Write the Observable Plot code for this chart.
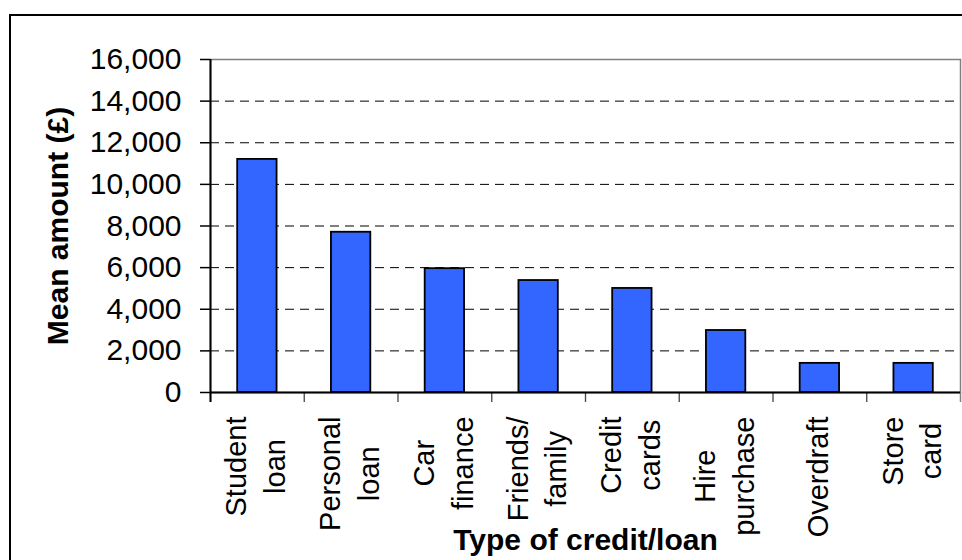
<!DOCTYPE html>
<html>
<head>
<meta charset="utf-8">
<script src="https://cdn.jsdelivr.net/npm/d3@7"></script>
<script src="https://cdn.jsdelivr.net/npm/@observablehq/plot@0.6"></script>
<style>
  body { margin: 0; background: #fff; }
  #wrap { position: relative; width: 962px; height: 560px; overflow: hidden; background: #fff; }
  #frame { position: absolute; left: 9px; top: 14px; width: 1200px; height: 1200px;
           border-left: 2px solid #000; border-top: 2px solid #000; pointer-events: none; }
</style>
</head>
<body>
<div id="wrap"><div id="frame"></div></div>
<script>
const categories = ["Student loan", "Personal loan", "Car finance", "Friends/family",
                    "Credit cards", "Hire purchase", "Overdraft", "Store card"];
const labelLines = [["Student", "loan"], ["Personal", "loan"], ["Car", "finance"], ["Friends/", "family"],
                    ["Credit", "cards"], ["Hire", "purchase"], ["Overdraft"], ["Store", "card"]];
const values = [11200, 7700, 5950, 5380, 5000, 2980, 1400, 1400];
const yTicks = [0, 2000, 4000, 6000, 8000, 10000, 12000, 14000, 16000];
const gridValues = [2000, 4000, 6000, 8000, 10000, 12000, 14000];
const xTitle = "Type of credit/loan";
const yTitle = "Mean amount (£)";

const W = 962, H = 560, mL = 210, mR = 2, mT = 59, mB = 168;
const step = (W - mL - mR) / categories.length;
const FONT = "'Liberation Sans', Arial, sans-serif";
const data = categories.map((c, i) => ({category: c, value: values[i]}));

const ctx = document.createElement("canvas").getContext("2d");
ctx.font = "29px 'Liberation Sans'";

const labelMarks = categories.map((c, i) => {
  const w = d3.max(labelLines[i], s => ctx.measureText(s).width);
  return Plot.text([c], {
    x: d => d, text: () => labelLines[i].join("\n"),
    frameAnchor: "bottom", rotate: -90, textAnchor: "middle", lineAnchor: "middle",
    lineHeight: 1.34, dx: -4, dy: 24 + w / 2, fontSize: 29, fontFamily: FONT, fill: "#000"
  });
});

const chart = Plot.plot({
  width: W, height: H,
  marginLeft: mL, marginRight: mR, marginTop: mT, marginBottom: mB,
  style: {fontFamily: FONT, background: "#fff", color: "#000"},
  x: {domain: categories, paddingInner: 0.58, paddingOuter: 0.29, round: false, axis: null},
  y: {domain: [0, 16000]},
  marks: [
    Plot.frame({stroke: "#808080", strokeWidth: 1.5}),
    Plot.ruleY(gridValues, {stroke: "#000", strokeWidth: 1, strokeDasharray: "9,6"}),
    Plot.barY(data, {x: "category", y: "value", fill: "#3366FF", stroke: "#000", strokeWidth: 1.8}),
    Plot.ruleX(categories, {x: d => d, dx: -step / 2, y1: 0, y2: 0, insetBottom: -10, stroke: "#444", strokeWidth: 1.3}),
    Plot.ruleX([categories[categories.length - 1]], {x: d => d, dx: step / 2, y1: 0, y2: 0, insetBottom: -10, stroke: "#808080", strokeWidth: 1.5}),
    Plot.ruleX([categories[0]], {x: d => d, dx: -step / 2, y1: 16000, y2: 0, insetBottom: -10, stroke: "#000", strokeWidth: 2}),
    Plot.ruleY([0], {stroke: "#000", strokeWidth: 2}),
    Plot.axisY(yTicks, {tickFormat: d3.format(","), tickSize: 10, tickPadding: 19, fontSize: 30,
                        fontFamily: FONT, label: null, stroke: "#000", strokeWidth: 1.5}),
    ...labelMarks,
    Plot.text([xTitle], {text: d => d, frameAnchor: "bottom", dy: 148, fontSize: 30, fontWeight: "bold",
                         fontFamily: FONT, textAnchor: "middle", lineAnchor: "middle", fill: "#000"}),
    Plot.text([yTitle], {text: d => d, frameAnchor: "left", dx: -152, rotate: -90, fontSize: 30, fontWeight: "bold",
                         fontFamily: FONT, textAnchor: "middle", lineAnchor: "middle", fill: "#000"})
  ]
});
document.getElementById("wrap").prepend(chart);
</script>
</body>
</html>
